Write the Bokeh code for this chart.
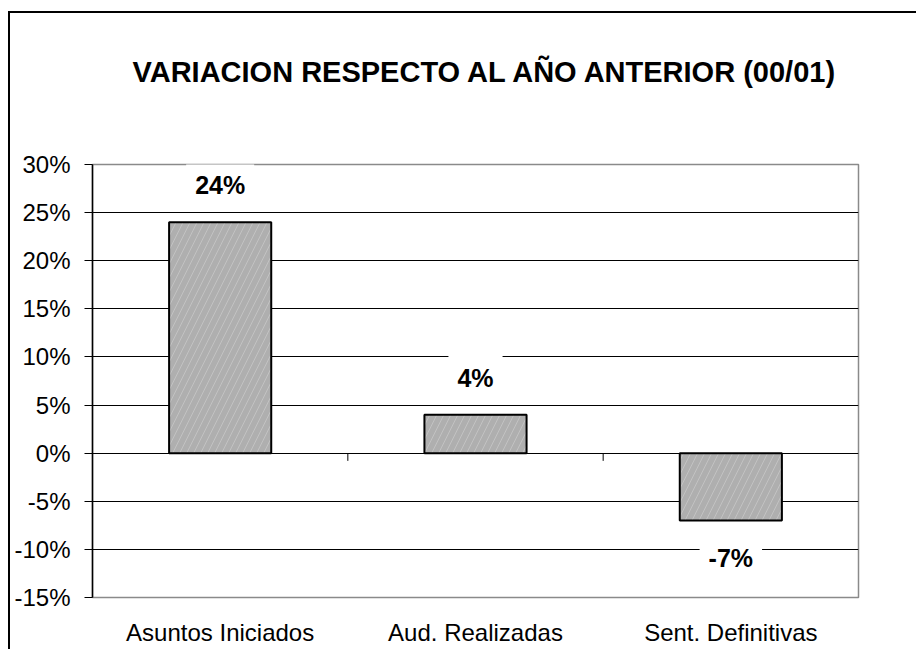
from bokeh.plotting import figure
from bokeh.models import (ColumnDataSource, FixedTicker, NumeralTickFormatter, Range1d, Title)
from bokeh.embed import file_html
from bokeh.resources import INLINE
from bokeh.core.properties import value

# ---- data ----
categories = ["Asuntos Iniciados", "Aud. Realizadas", "Sent. Definitivas"]
variation = [0.24, 0.04, -0.07]
labels = ["24%", "4%", "-7%"]
y_ticks = [-0.15, -0.10, -0.05, 0.0, 0.05, 0.10, 0.15, 0.20, 0.25, 0.30]
title_text = "VARIACION RESPECTO AL AÑO ANTERIOR (00/01)"

FONT = "Liberation Sans"

n = len(categories)
xs = [i + 0.5 for i in range(n)]
src = ColumnDataSource(dict(
    x=xs, top=variation, lab=labels,
    yoff=[-37 if v >= 0 else 37 for v in variation],
))

p = figure(width=908, height=638, output_backend="svg", toolbar_location=None,
           x_range=Range1d(0, n), y_range=Range1d(y_ticks[0], y_ticks[-1]),
           min_border_left=82, min_border_right=60, min_border_top=151,
           min_border_bottom=54)
p.styles = {"border-top": "2px solid #000", "border-left": "2px solid #000",
            "margin-top": "11px", "margin-left": "8px"}

# spacer between frame and title, then the title itself
spacer = Title(text=" ", text_font_size="1px", standoff=74)
p.add_layout(spacer, "above")
t = Title(text=title_text, align="left", offset=40, standoff=0, text_font=FONT,
          text_font_size="29px", text_font_style="bold", text_color="black")
p.add_layout(t, "above")

p.outline_line_color = "#8a8a8a"
p.outline_line_width = 1.5
p.background_fill_color = "white"
p.border_fill_color = "white"

# grid
p.xgrid.visible = False
p.ygrid.ticker = FixedTicker(ticks=y_ticks)
p.ygrid.grid_line_color = "black"
p.ygrid.grid_line_width = 1

# y axis
p.yaxis.ticker = FixedTicker(ticks=y_ticks)
p.yaxis.formatter = NumeralTickFormatter(format="0%")
p.yaxis.major_label_text_font = FONT
p.yaxis.major_label_text_font_size = "24px"
p.yaxis.major_label_text_color = "black"
p.yaxis.axis_line_color = "black"
p.yaxis.axis_line_width = 1.5
p.yaxis.major_tick_out = 8
p.yaxis.major_tick_in = 0
p.yaxis.minor_tick_line_color = None
p.yaxis.major_label_standoff = 14

# x axis (category names)
p.xaxis.ticker = FixedTicker(ticks=xs)
p.xaxis.major_label_overrides = {x: c for x, c in zip(xs, categories)}
p.xaxis.major_label_text_font = FONT
p.xaxis.major_label_text_font_size = "24px"
p.xaxis.major_label_text_color = "black"
p.xaxis.axis_line_color = None
p.xaxis.major_tick_line_color = None
p.xaxis.minor_tick_line_color = None
p.xaxis.major_label_standoff = 15

# category boundary ticks on the zero line
bounds = list(range(1, n))
p.segment(x0=bounds, x1=bounds, y0=[0] * len(bounds), y1=[-0.008] * len(bounds),
          line_color="black", line_width=1)

# bars
p.vbar(x="x", top="top", bottom=0, width=0.4, source=src,
       fill_color="#afafaf", line_color="black", line_width=2,
       hatch_pattern="/", hatch_color="white", hatch_alpha=0.4,
       hatch_scale=14, hatch_weight=0.6)

# value labels
p.text(x="x", y="top", text="lab", source=src, y_offset="yoff",
       text_align="center", text_baseline="middle",
       text_font=value(FONT), text_font_size="25px", text_font_style="bold",
       text_color="black", background_fill_color="white", padding=9)

open("out.html", "w").write(file_html(p, INLINE))
